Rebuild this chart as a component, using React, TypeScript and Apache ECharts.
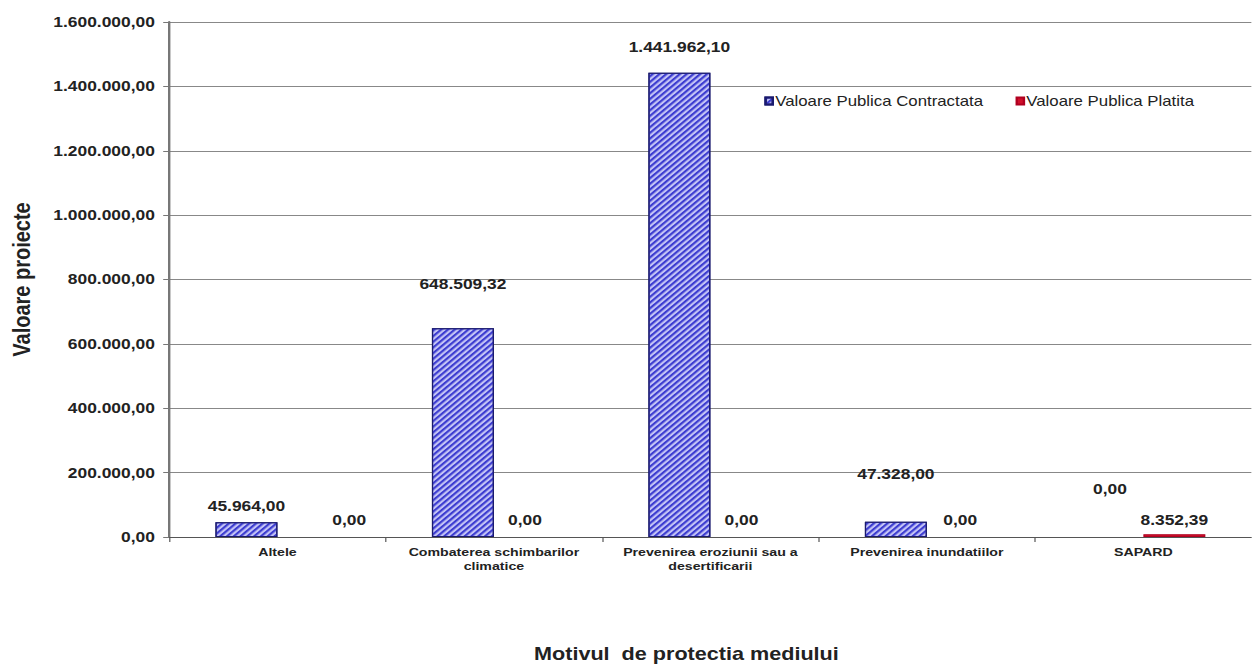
import React, { useEffect, useRef } from "react";
import * as echarts from "echarts";

const categories = [
  "Altele",
  "Combaterea schimbarilor\nclimatice",
  "Prevenirea eroziunii sau a\ndesertificarii",
  "Prevenirea inundatiilor",
  "SAPARD",
];
const contractata = [45964.0, 648509.32, 1441962.1, 47328.0, 0.0];
const platita = [0.0, 0.0, 0.0, 0.0, 8352.39];
const contractataLabelOffsets = [
  [0, -4],
  [0, -32],
  [0, -13],
  [0, -35],
  [-2, -35],
];
const platitaLabelOffsets = [
  [34, -4],
  [0, -4],
  [0, -4],
  [2, -4],
  [0, -2],
];
const seriesNames = ["Valoare Publica Contractata", "Valoare Publica Platita"];

function fmt(v: number): string {
  const fixed = v.toFixed(2);
  const [intPart, dec] = fixed.split(".");
  const withDots = intPart.replace(/\B(?=(\d{3})+(?!\d))/g, ".");
  return withDots + "," + dec;
}

const FONT = "Liberation Sans, Arial, sans-serif";
const W = 1252;
const H = 671;
const SX = 1.2; // horizontal stretch of the original picture
const IW = W / SX;

export default function App() {
  const ref = useRef<HTMLDivElement>(null);
  useEffect(() => {
    if (!ref.current) return;
    const chart = echarts.init(ref.current, undefined, { renderer: "svg" });
    const labelStyle = {
      show: true,
      position: "top",
      distance: 5,
      fontFamily: FONT,
      fontSize: 14.5,
      fontWeight: "bold",
      color: "#222",
      formatter: (p: any) => fmt(p.value),
    };
    chart.setOption({
      animation: false,
      backgroundColor: "#ffffff",
      legend: {
        data: seriesNames,
        left: 632,
        top: 89,
        itemWidth: 6,
        itemHeight: 7,
        itemGap: 27,
        icon: "rect",
        textStyle: { fontFamily: FONT, fontSize: 14, color: "#222", padding: [0, 0, 0, -3] },
      },
      grid: { left: 166 / SX, top: 22, width: 1095 / SX, height: 515 },
      xAxis: {
        type: "category",
        data: categories,
        name: "Motivul  de protectia mediului",
        nameLocation: "middle",
        nameGap: 108,
        nameTextStyle: {
          fontFamily: FONT,
          fontSize: 18,
          fontWeight: "bold",
          color: "#222",
          padding: [0, 40, 0, 0],
        },
        axisLine: { lineStyle: { color: "#555", width: 1 } },
        axisTick: { show: true, length: 5, lineStyle: { color: "#555" } },
        axisLabel: {
          interval: 0,
          margin: 8,
          fontFamily: FONT,
          fontSize: 11.8,
          fontWeight: "bold",
          color: "#222",
          lineHeight: 14,
        },
      },
      yAxis: {
        type: "value",
        min: 0,
        max: 1600000,
        interval: 200000,
        name: "Valoare proiecte",
        nameLocation: "middle",
        nameGap: 113,
        nameRotate: 90,
        nameTextStyle: {
          fontFamily: FONT,
          fontSize: 20,
          fontWeight: "bold",
          color: "#222",
        },
        axisLine: { show: true, lineStyle: { color: "#777", width: 2 } },
        axisTick: { show: true, length: 5, lineStyle: { color: "#777" } },
        axisLabel: {
          margin: 12,
          fontFamily: FONT,
          fontSize: 14.5,
          fontWeight: "bold",
          color: "#222",
          formatter: (v: number) => fmt(v),
        },
        splitLine: { show: true, lineStyle: { color: "#888", width: 1 } },
      },
      series: [
        {
          name: seriesNames[0],
          type: "bar",
          barWidth: 62 / SX,
          barGap: "0%",
          data: contractata.map((v, i) => ({
            value: v,
            label: { offset: contractataLabelOffsets[i] },
            itemStyle: v === 0 ? { borderWidth: 0 } : undefined,
          })),
          itemStyle: {
            color: "#c4c4f6",
            borderColor: "#1a1a6e",
            borderWidth: 1,
            decal: {
              symbol: "rect",
              symbolSize: 1,
              dashArrayX: [[1, 0]],
              dashArrayY: [2, 2],
              rotation: -Math.PI / 4,
              color: "#3c3cd0",
            },
          },
          label: labelStyle,
        },
        {
          name: seriesNames[1],
          type: "bar",
          barWidth: 62 / SX,
          barGap: "0%",
          data: platita.map((v, i) => ({
            value: v,
            label: { offset: platitaLabelOffsets[i] },
            itemStyle: v === 0 ? { borderWidth: 0 } : undefined,
          })),
          itemStyle: { color: "#d0102a", borderColor: "#b00020", borderWidth: 1 },
          label: labelStyle,
        },
      ],
    });
    return () => chart.dispose();
  }, []);
  return (
    <div style={{ position: "fixed", left: 0, top: 0, width: W, height: H, overflow: "hidden" }}>
      <div
        ref={ref}
        style={{
          width: IW,
          height: H,
          transform: `scaleX(${SX})`,
          transformOrigin: "0 0",
        }}
      />
    </div>
  );
}
